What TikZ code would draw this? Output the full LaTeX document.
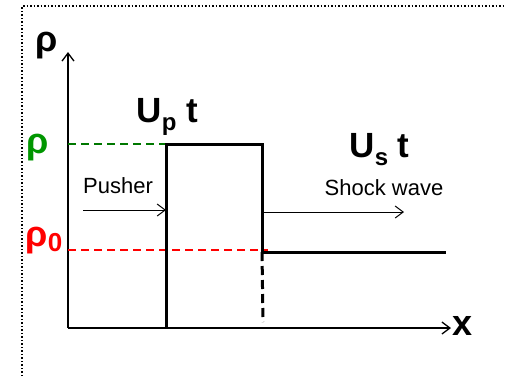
\documentclass[tikz,border=0pt]{standalone}
\usepackage{fontspec}
\setmainfont{Liberation Sans}
\usetikzlibrary{arrows.meta}
\definecolor{rhogreen}{RGB}{0,150,0}
\definecolor{lvlgreen}{RGB}{0,120,0}
\definecolor{lvlred}{RGB}{255,0,0}

\begin{document}
\begin{tikzpicture}[
    x=1pt, y=-1pt,
    >={Straight Barb[length=8pt,width=12pt]},
    axis/.style={->, line width=1.3pt},
    profile/.style={line width=3pt},
    level/.style={line width=1.8pt, dash pattern=on 8pt off 5pt},
    flow/.style={->, line width=1pt},
    big/.style={font=\fontsize{36}{40}\selectfont\bfseries},
    vel/.style={font=\fontsize{35}{40}\selectfont\bfseries, anchor=base west},
    lbl/.style={font=\fontsize{22}{26}\selectfont, anchor=base},
  ]

  % frame
  \useasboundingbox (0,0) rectangle (506,376);
  \draw[dotted, line width=1.5pt] (22,376) -- (22,6) -- (506,6);

  % axes
  \coordinate (O) at (68,328);
  \draw[axis] (O) -- (68,52) coordinate (ytip);
  \draw[axis] (O) -- (451,328) coordinate (xtip);
  \node[big] (rho) at (47,46) {ρ};
  \node[big] (x) at (463,326) {x};

  % density levels
  \coordinate (pl) at (166,144);
  \coordinate (pr) at (262,144);
  \coordinate (sf) at (262,252);
  \coordinate (r0) at (268,250);
  \node[big, text=rhogreen] (rhoc) at (38,148) {ρ};
  \node[big, text=lvlred] (rho0) at (44,241) {ρ\raisebox{-0.25ex}{\fontsize{26}{28}\selectfont 0}};
  \draw[level, draw=lvlgreen] (O |- pl) -- (pl);
  \draw[level, draw=lvlred] (O |- r0) -- (r0);

  % profile
  \draw[profile] (O -| pl) -- (pl) -- (pr) -- (sf);
  \draw[profile] (sf) -- (446,252);
  \draw[profile, dash pattern=on 9pt off 5pt] (sf) -- (263,322);

  % velocities
  \node[vel] (up) at (133,122) {U\raisebox{-0.45ex}{\fontsize{24}{26}\selectfont p} t};
  \node[vel] (us) at (346,157) {U\raisebox{-0.45ex}{\fontsize{24}{26}\selectfont s} t};

  % pusher and shock
  \node[lbl] (pusher) at (118,193) {Pusher};
  \draw[flow] (83,210) -- (pl |- 0,210);
  \node[lbl] (shock) at (384,195) {Shock wave};
  \draw[flow] (pr |- 0,212) -- (404,212);

\end{tikzpicture}
\end{document}
